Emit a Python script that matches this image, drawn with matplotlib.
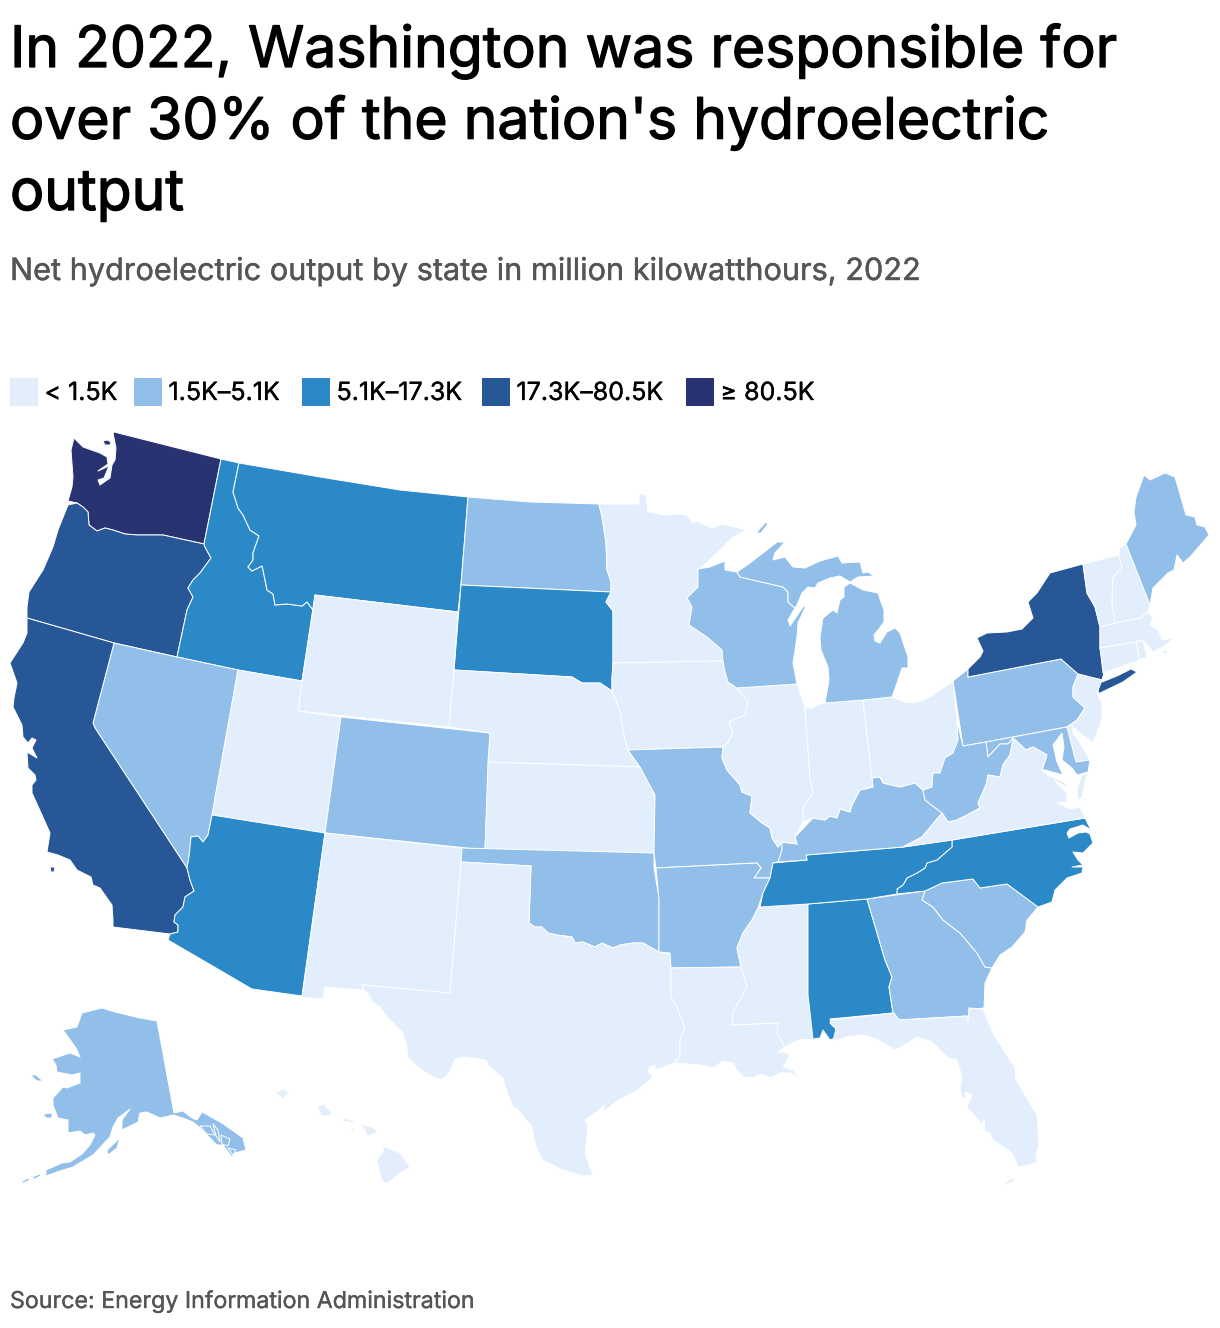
import matplotlib
matplotlib.use("Agg")
import matplotlib.pyplot as plt
import matplotlib.patheffects as pe
from matplotlib.patches import Rectangle

plt.rcParams['font.family'] = ['Inter', 'DejaVu Sans']

TITLE_LINES = ["In 2022, Washington was responsible for",
               "over 30% of the nation's hydroelectric",
               "output"]
SUBTITLE = "Net hydroelectric output by state in million kilowatthours, 2022"
SOURCE = "Source: Energy Information Administration"
BIN_LABELS = ["< 1.5K", "1.5K–5.1K", "5.1K–17.3K", "17.3K–80.5K", "≥ 80.5K"]
BIN_COLORS = ["#E2EEFC", "#91BFEA", "#2B89C7", "#275797", "#293371"]

# Output class of each state (index into BIN_LABELS)
STATE_BIN = {
    "WA": 4, "OR": 3, "CA": 3, "NY": 3,
    "ID": 2, "MT": 2, "SD": 2, "AZ": 2, "TN": 2, "AL": 2, "NC": 2,
    "ND": 1, "NV": 1, "CO": 1, "OK": 1, "AR": 1, "MO": 1, "WI": 1, "MI": 1,
    "KY": 1, "WV": 1, "PA": 1, "MD": 1, "ME": 1, "GA": 1, "SC": 1, "AK": 1,
    "WY": 0, "UT": 0, "NM": 0, "TX": 0, "NE": 0, "KS": 0, "MN": 0, "IA": 0,
    "IL": 0, "IN": 0, "OH": 0, "LA": 0, "MS": 0, "FL": 0, "VA": 0, "NJ": 0,
    "DE": 0, "CT": 0, "RI": 0, "MA": 0, "VT": 0, "NH": 0, "HI": 0,
}

WA_OR = [(204,544),(163,535),(138,535),(125,534),(113,530),(105,528),(97,531),(89,525),(88,512),(83,507),(77,503)]
OR_ID = [(204,544),(205,547),(211,558),(200,573),(193,580),(188,588),(193,597),(187,610),(177,657)]
ID_MT = [(239,463),(233,492),(238,508),(243,515),(250,530),(259,536),(253,553),(253,560),(248,567),(252,571),(262,566),(263,570),(267,590),(273,594),(275,605),(287,604),(302,606),(307,602),(313,610)]
NV_AZ = [(212,815),(208,835),(203,842),(198,836),(191,837),(189,857),(187,868)]
CA_AZ = [(187,868),(190,880),(194,891),(185,897),(183,907),(175,915),(174,922),(178,925),(178,932),(170,934)]
RED_RIVER = [(529,923),(535,927),(542,927),(548,933),(557,935),(572,937),(575,943),(583,942),(595,947),(602,943),(613,948),(620,945),(633,943),(643,943),(659,952)]
TX_LA = [(671,955),(671,997),(677,1007),(683,1023),(685,1028),(680,1040),(680,1055),(675,1063)]
MS_LA = [(741,967),(747,987),(740,1000),(733,1012),(732,1025),(778,1023),(777,1033),(785,1047)]
AR_MS = [(758,908),(752,920),(743,933),(737,948),(741,967)]
AR_TN = [(770,878),(763,893),(758,908)]
MO_IL = [(723,747),(722,758),(727,770),(740,785),(742,792),(752,796),(750,813),(762,823),(770,828),(772,838),(778,847)]
IA_IL = [(737,688),(748,702),(745,715),(729,722),(733,733),(728,742),(723,747)]
IL_IN = [(805,707),(810,777),(813,793),(803,808),(803,822)]
IL_KY = [(803,822),(795,837),(797,844),(782,842),(778,847)]
IN_KY = [(872,778),(873,787),(860,790),(852,805),(850,812),(840,809),(837,818),(830,816),(825,820),(813,818),(803,822)]
OH_KY = [(923,790),(915,783),(900,787),(883,783),(880,777),(872,778)]
OH_WV = [(957,721),(958,740),(953,753),(945,758),(940,773),(933,773),(932,787),(923,790)]
KY_WV = [(923,790),(925,800),(942,813)]
VA_WV = [(942,813),(948,822),(957,820),(967,815),(980,808),(978,803),(986,785),(988,775),(1000,777),(1003,765),(1010,755),(1012,745)]
WV_MD = [(986,742),(988,757),(1000,744),(1008,744),(1013,738)]
VA_MD = [(1012,745),(1013,738),(1026,750),(1033,747),(1047,755),(1042,770)]
TN_NC = [(952,840),(952,847),(945,853),(937,860),(927,863),(925,868),(917,873),(907,878),(903,885),(897,889),(897,894)]
GA_SC = [(925,891),(922,900),(933,907),(943,920),(960,933),(977,953),(985,967),(992,968)]
NC_SC = [(897,894),(925,891),(942,883),(973,879),(980,888),(1007,884),(1038,907)]
AL_GA = [(867,899),(885,960),(892,977),(889,987),(893,1013)]
PA_NY = [(968,669),(968,677),(1061,659),(1070,667),(1078,674)]
PA_NJ = [(1078,674),(1073,687),(1073,697),(1085,708),(1077,720),(1067,727)]
NY_VT = [(1083,564),(1087,593),(1095,607),(1100,627)]
VT_NH = [(1119,555),(1122,567),(1113,578),(1112,603),(1115,623)]
NY_MA = [(1100,627),(1100,648)]
WI_MN = [(698,569),(698,587),(687,598),(692,607),(689,625),(707,637),(722,650),(723,661),(725,672),(728,682),(737,688)]
WI_MI = [(737,572),(740,577),(783,587),(788,592),(788,602),(795,608)]
SD_MN = [(611,592),(606,602),(613,611),(613,663)]
SD_NE = [(454,670),(572,677),(582,683),(600,683),(612,691),(612,678),(613,663)]
NE_IA = [(612,691),(616,700),(620,712),(625,740),(628,750)]
MO_KS = [(640,767),(655,795),(654,853)]

STATE_SHAPES = {
    "WA": [[(114,432),(221,459)] + WA_OR + [(68,501),(72,487),(73,477),(71,450),(74,438),(83,447),(100,453),(107,457),(108,464),(98,471),(109,466),(104,478),(98,480),(100,485),(110,478),(112,465),(115,460),(116,448),(113,433)],
           [(103,441),(107,440),(111,442),(110,445),(105,445)]],
    "OR": [WA_OR[::-1] + OR_ID + [(114,643),(27,618),(27,607),(29,592),(43,570),(53,547),(58,530),(68,505)]],
    "ID": [[(221,459)] + ID_MT + [(302,681),(238,670),(177,657)] + OR_ID[::-1]],
    "MT": [ID_MT + [(315,595),(458,612),(461,585),(468,497),(400,490),(320,477)]],
    "ND": [[(468,497),(530,502),(599,504),(602,517),(606,543),(607,570),(611,582),(611,592),(461,585)]],
    "SD": [[(461,585),(611,592)] + SD_MN[1:] + SD_NE[::-1][1:]],
    "WY": [[(315,595),(458,612),(454,670),(449,727),(298,711),(302,681)]],
    "NV": [[(114,643),(177,657),(238,670)] + NV_AZ + [(95,728),(93,723)]],
    "UT": [[(238,670),(302,681),(298,711),(341,717),(325,833),(212,815)]],
    "CO": [[(341,717),(490,733),(485,850),(325,833)]],
    "CA": [[(27,618),(114,643),(93,723),(95,728)] + CA_AZ + [(113,927),(113,920),(112,905),(100,888),(93,885),(91,877),(77,870),(70,860),(58,855),(47,852),(50,833),(42,815),(32,793),(32,785),(36,780),(35,775),(28,768),(27,752),(37,758),(32,748),(36,740),(32,738),(28,743),(23,737),(22,725),(13,707),(14,698),(17,683),(10,663),(23,643),(27,633)],
           [(50,867),(55,867),(54,872),(51,872)]],
    "AZ": [[(212,815),(325,833),(302,996),(252,989),(168,940)] + CA_AZ[::-1] + NV_AZ[::-1][1:]],
    "NM": [[(325,833),(462,848),(461,862),(450,993),(363,985),(363,990),(325,987),(323,999),(302,997)]],
    "NE": [SD_NE[:5] + NE_IA[1:] + [(640,767),(488,762),(490,733),(449,727)]],
    "KS": [[(488,762),(640,767),(655,795),(654,853),(485,850)]],
    "OK": [[(462,848),(654,853),(654,868),(659,898),(659,952)] + RED_RIVER[::-1] + [(531,866),(461,862)]],
    "TX": [[(461,862),(531,866)] + RED_RIVER + [(665,953)] + TX_LA + [(655,1070),(655,1065),(650,1067),(648,1071),(653,1077),(638,1090),(617,1101),(603,1112),(605,1105),(597,1112),(585,1120),(588,1125),(587,1137),(585,1153),(592,1172),(593,1175),(583,1176),(563,1170),(542,1160),(535,1143),(532,1127),(518,1110),(513,1107),(505,1087),(503,1078),(490,1067),(485,1060),(465,1057),(455,1059),(449,1073),(442,1080),(433,1077),(420,1069),(408,1058),(406,1042),(402,1032),(393,1023),(387,1017),(380,1007),(372,1002),(368,993),(363,990),(363,985),(450,993)]],
    "MN": [[(599,504),(639,504),(639,493),(646,495),(648,512),(665,515),(677,514),(687,515),(693,523),(697,521),(712,528),(722,524),(747,530),(733,537),(720,550),(702,567)] + WI_MN[:7] + [(723,661),(613,663),(613,611),(606,602),(611,592),(611,582),(607,570),(606,543),(602,517)]],
    "IA": [[(613,663),(723,661),(725,672),(728,682)] + IA_IL + [(628,750)] + NE_IA[::-1][1:] + [(612,678)]],
    "MO": [[(628,750)] + MO_IL + [(782,842),(782,850),(778,862),(773,863),(770,878),(754,878),(761,868),(757,863),(656,868),(654,853)] + MO_KS[::-1][1:]],
    "AR": [[(656,868),(757,863),(761,868),(754,878),(770,878)] + AR_TN[1:] + AR_MS[1:] + [(671,968),(670,953),(659,952),(659,900)]],
    "LA": [[(671,968),(741,967)] + MS_LA[1:] + [(778,1052),(785,1052),(790,1055),(783,1067),(793,1070),(798,1077),(790,1073),(780,1073),(770,1078),(762,1074),(753,1078),(743,1077),(737,1070),(733,1063),(723,1061),(713,1068),(700,1065),(675,1063)] + TX_LA[::-1][1:-1]],
    "MS": [[(760,907),(808,904),(808,995),(813,1039),(798,1040)] + MS_LA[::-1] + AR_MS[::-1]],
    "AL": [[(808,904)] + AL_GA + [(830,1019),(832,1025),(836,1028),(835,1038),(830,1040),(823,1030),(820,1038),(813,1039),(808,995)]],
    "GA": [[(925,891)] + [(867,899)] + AL_GA[1:] + [(899,1020),(967,1016),(969,1021),(969,1010),(984,1008),(985,983)] + GA_SC[::-1]],
    "SC": [NC_SC[1:] + [(1027,920),(1025,932),(1012,947),(1000,955)] + GA_SC[::-1]],
    "NC": [[(1085,818),(1091,830),(1083,825),(1070,829),(1067,833),(1069,838),(1078,833),(1086,832),(1090,834),(1093,843),(1083,853),(1073,852),(1078,860),(1083,865),(1072,867),(1083,867),(1082,873),(1067,878),(1055,890),(1052,902),(1038,907)] + NC_SC[::-1] + TN_NC[::-1]],
    "TN": [[(773,863),(807,860),(806,855),(903,847)] + TN_NC + [(867,899),(808,904),(760,907),(763,893),(770,878)]],
    "KY": [[(782,842),(797,844),(795,837)] + IN_KY[::-1][1:] + OH_KY[::-1][1:] + KY_WV[1:] + [(922,837),(903,847),(806,855),(807,860),(778,862),(782,850)]],
    "IL": [[(737,688),(797,684)] + IL_IN + IL_KY[1:] + MO_IL[::-1] + IA_IL[::-1][1:]],
    "IN": [[(805,707),(812,708),(822,703),(863,700),(872,778)] + IN_KY[1:] + IL_IN[::-1][1:]],
    "OH": [[(863,700),(892,697),(905,702),(915,703),(930,697),(953,681),(957,721)] + OH_WV[1:] + OH_KY[1:]],
    "WI": [[(698,569),(710,567),(725,561),(725,570),(737,572)] + WI_MI[1:] + [(788,620),(790,626),(803,607),(806,606),(798,623),(797,637),(793,663),(797,684),(737,688)] + WI_MN[::-1][1:]],
    "MI": [[(737,572),(750,563),(763,553),(777,542),(785,542),(775,553),(773,560),(785,557),(793,567),(805,568),(820,561),(838,556),(842,563),(860,562),(863,573),(868,572),(874,576),(858,577),(850,582),(840,576),(830,578),(818,583),(815,588),(808,587),(802,593),(797,605),(795,608),(788,602),(788,592),(783,587),(740,577)],
           [(850,583),(863,590),(878,593),(881,602),(884,610),(884,622),(878,630),(874,635),(875,641),(880,643),(887,632),(895,628),(900,633),(908,657),(908,668),(902,668),(897,683),(892,697),(863,700),(825,703),(829,680),(828,667),(821,650),(820,637),(823,618),(833,610),(837,613),(840,600),(844,597),(844,587)],
           [(756,533),(766,522),(768,524),(761,533)]],
    "PA": [[(953,681)] + PA_NY + PA_NJ[1:] + [(986,742),(963,746)]],
    "NY": [[(1083,564)] + NY_VT[1:] + NY_MA[1:] + [(1104,673),(1102,680),(1078,674)] + PA_NY[::-1][1:] + [(980,657),(983,651),(977,638),(987,633),(1007,632),(1022,629),(1033,618),(1028,602),(1037,593),(1050,573)],
           [(1098,693),(1099,680),(1102,682),(1117,676),(1131,669),(1137,672),(1123,682),(1100,693)],
           [(1094,692),(1097,690),(1097,696),(1094,696)]],
    "VT": [[(1083,564),(1119,555)] + VT_NH[1:] + [(1100,627)] + NY_VT[::-1][1:]],
    "NH": [[(1119,555),(1120,547),(1126,544),(1150,605),(1148,612),(1140,618)] + VT_NH[::-1]],
    "ME": [[(1126,544),(1136,525),(1134,512),(1136,497),(1144,475),(1150,480),(1165,473),(1175,477),(1186,515),(1195,517),(1197,525),(1205,527),(1209,535),(1190,557),(1183,563),(1177,555),(1174,570),(1168,573),(1153,588),(1150,605)]],
    "MA": [[(1100,627),(1115,623),(1140,618),(1148,612),(1153,618),(1150,625),(1158,630),(1162,640),(1175,638),(1163,647),(1153,652),(1143,640),(1136,642),(1100,648)],
           [(1161,651),(1168,651),(1165,655)]],
    "CT": [[(1100,648),(1136,642),(1140,660),(1103,673)]],
    "RI": [[(1136,642),(1143,640),(1147,657),(1140,660)]],
    "NJ": [[(1078,674),(1102,680),(1097,693),(1102,703),(1102,720),(1093,742),(1082,735),(1073,727),(1067,727)] + PA_NJ[::-1][1:-1]],
    "DE": [[(1067,727),(1073,725),(1073,733),(1080,743),(1090,760),(1076,762)]],
    "MD": [WV_MD + VA_MD[2:] + [(1045,770),(1063,775),(1057,762),(1053,745),(1062,733),(1064,747),(1062,760),(1072,768),(1077,775),(1088,772),(1090,760),(1076,762),(1067,727)]],
    "WV": [[(957,721),(963,746)] + WV_MD + [(1012,745)] + VA_WV[::-1][1:] + KY_WV[::-1][1:] + OH_WV[::-1][1:]],
    "VA": [[(903,847),(922,837)] + VA_WV + VA_MD[1:] + [(1048,775),(1067,784),(1067,787),(1055,781),(1067,793),(1067,802),(1057,803),(1070,809),(1080,807),(1085,818),(952,840)],
           [(1082,775),(1088,773),(1085,782),(1082,798),(1078,800),(1077,788)]],
    "FL": [[(831,1020),(894,1013),(899,1020),(967,1016),(968,1022),(969,1008),(983,1009),(993,1033),(1015,1068),(1016,1080),(1037,1115),(1039,1143),(1036,1155),(1037,1163),(1018,1167),(1012,1153),(993,1140),(990,1133),(985,1132),(984,1120),(982,1125),(967,1107),(972,1095),(965,1092),(967,1100),(962,1097),(960,1088),(962,1077),(957,1060),(948,1058),(940,1050),(932,1042),(917,1037),(908,1043),(895,1050),(890,1047),(877,1039),(863,1035),(847,1037),(833,1041),(836,1029),(830,1023)],
           [(1002,1185),(1012,1178),(1015,1181),(1005,1185)]],
    "AK": [[(157,1021),(174,1113),(183,1111),(192,1118),(197,1120),(202,1112),(222,1123),(243,1138),(246,1150),(235,1153),(232,1157),(223,1145),(217,1145),(207,1135),(200,1128),(193,1122),(183,1118),(173,1115),(160,1118),(147,1112),(140,1113),(138,1122),(122,1130),(122,1120),(130,1109),(118,1118),(113,1127),(110,1137),(93,1155),(83,1161),(73,1167),(60,1171),(46,1176),(46,1170),(62,1163),(70,1162),(82,1154),(90,1145),(95,1135),(93,1133),(85,1135),(80,1131),(68,1133),(68,1120),(58,1118),(53,1105),(53,1098),(63,1087),(67,1088),(80,1083),(80,1073),(72,1075),(57,1072),(56,1065),(52,1059),(70,1053),(80,1057),(76,1048),(63,1030),(77,1027),(82,1013),(102,1008),(115,1012),(140,1018)],
           [(107,1150),(120,1138),(117,1148),(108,1155)],
           [(43,1114),(52,1113),(52,1118),(46,1118)],
           [(30,1075),(36,1075),(43,1081),(37,1081)],
           [(20,1183),(28,1178),(30,1180),(24,1183)],
           [(32,1177),(40,1174),(41,1176),(34,1179)],
           [(200,1126),(210,1126),(215,1135),(207,1134)],
           [(213,1124),(218,1130),(220,1142),(216,1136)],
           [(221,1135),(230,1139),(228,1146),(222,1144)],
           [(228,1148),(236,1150),(233,1155)]],
    "HI": [[(383,1146),(400,1153),(410,1167),(400,1173),(387,1184),(381,1180),(377,1160),(383,1152)],
           [(360,1124),(372,1127),(378,1132),(367,1136),(365,1130)],
           [(343,1118),(354,1121),(354,1123),(343,1121)],
           [(350,1127),(355,1130),(352,1132)],
           [(317,1107),(324,1104),(333,1115),(322,1116)],
           [(276,1093),(283,1089),(289,1092),(283,1099)]],
}

fig = plt.figure(figsize=(12.2, 13.28), dpi=100)
ax = fig.add_axes([0, 0, 1, 1])
ax.set_xlim(0, 1220)
ax.set_ylim(1328, 0)
ax.axis("off")

for state, parts in STATE_SHAPES.items():
    color = BIN_COLORS[STATE_BIN[state]]
    for part in parts:
        xs, ys = zip(*part)
        ax.fill(xs, ys, facecolor=color, edgecolor="white", linewidth=0.7, joinstyle="round")


def bolder(width, color):
    return [pe.withStroke(linewidth=width, foreground=color)]


for line, base in zip(TITLE_LINES, (67, 138.7, 210)):
    ax.text(10, base, line, fontsize=41.1, color="black", va="baseline", ha="left",
            path_effects=bolder(0.9, "black"))
ax.text(10, 280, SUBTITLE, fontsize=22.1, color="#555555", va="baseline", ha="left",
        path_effects=bolder(0.3, "#555555"))
ax.text(10, 1308, SOURCE, fontsize=16.7, color="#555555", va="baseline", ha="left",
        path_effects=bolder(0.25, "#555555"))

for x, label, color in zip((10, 134, 302, 482, 686), BIN_LABELS, BIN_COLORS):
    ax.add_patch(Rectangle((x, 378), 28, 28, facecolor=color, edgecolor="none"))
    ax.text(x + 34.5, 400, label, fontsize=18.0, color="black", va="baseline", ha="left",
            path_effects=bolder(0.25, "black"))

fig.savefig("out.png", dpi=100)
